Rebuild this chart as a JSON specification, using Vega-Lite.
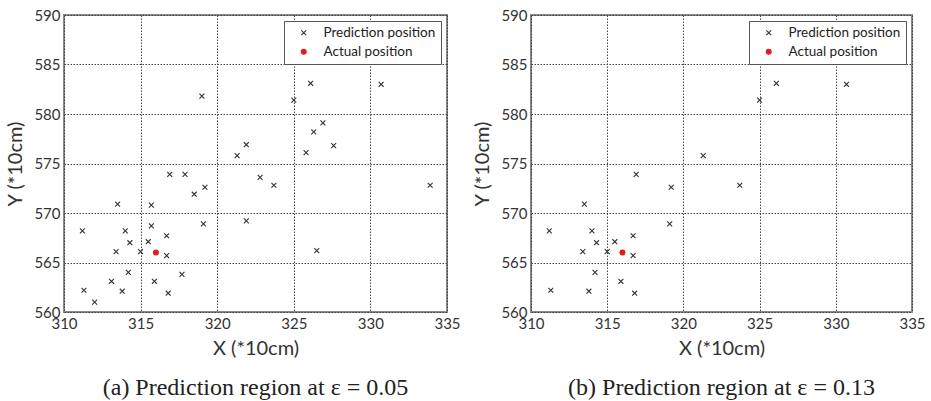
{
  "$schema": "https://vega.github.io/schema/vega-lite/v6.json",
  "padding": {"left": 4, "top": 7, "right": 5, "bottom": 0},
  "background": "white",
  "config": {
    "view": {"stroke": "#888", "strokeWidth": 2},
    "axis": {"grid": true, "gridColor": "#444", "gridDash": [1.5, 1.5], "gridWidth": 1, "domain": false, "ticks": false, "labelFont": "Lato", "labelFontSize": 15, "labelColor": "#333", "labelPadding": 4, "titleFont": "Lato", "titleFontSize": 20, "titleFontWeight": "normal", "titleColor": "#333", "labelOverlap": false, "labelFlush": false, "labelBound": false},
    "axisY": {"titlePadding": 8},
    "axisX": {"titlePadding": 7},
    "legend": {"orient": "top-right", "offset": 6, "strokeColor": "#555", "fillColor": "white", "padding": 5, "rowPadding": 4, "symbolOffset": 8, "labelOffset": 13, "labelFont": "Lato", "labelFontSize": 13.5, "labelColor": "#222", "symbolStrokeWidth": 1.1, "symbolSize": 24},
    "title": {"orient": "bottom", "font": "Liberation Serif", "fontSize": 24, "fontWeight": "normal", "color": "#222", "offset": 18, "anchor": "middle"}
  },
  "datasets": {
    "a": [
      {"x": 319.0, "y": 581.8, "series": "Prediction position"},
      {"x": 321.3, "y": 575.8, "series": "Prediction position"},
      {"x": 316.9, "y": 573.9, "series": "Prediction position"},
      {"x": 317.9, "y": 573.9, "series": "Prediction position"},
      {"x": 318.5, "y": 571.9, "series": "Prediction position"},
      {"x": 319.2, "y": 572.6, "series": "Prediction position"},
      {"x": 326.1, "y": 583.1, "series": "Prediction position"},
      {"x": 325.0, "y": 581.4, "series": "Prediction position"},
      {"x": 330.7, "y": 583.0, "series": "Prediction position"},
      {"x": 326.9, "y": 579.1, "series": "Prediction position"},
      {"x": 326.3, "y": 578.2, "series": "Prediction position"},
      {"x": 327.6, "y": 576.8, "series": "Prediction position"},
      {"x": 325.8, "y": 576.1, "series": "Prediction position"},
      {"x": 321.9, "y": 576.9, "series": "Prediction position"},
      {"x": 322.8, "y": 573.6, "series": "Prediction position"},
      {"x": 323.7, "y": 572.8, "series": "Prediction position"},
      {"x": 333.9, "y": 572.8, "series": "Prediction position"},
      {"x": 319.1, "y": 568.9, "series": "Prediction position"},
      {"x": 321.9, "y": 569.2, "series": "Prediction position"},
      {"x": 326.5, "y": 566.2, "series": "Prediction position"},
      {"x": 313.5, "y": 570.9, "series": "Prediction position"},
      {"x": 315.7, "y": 570.8, "series": "Prediction position"},
      {"x": 311.2, "y": 568.2, "series": "Prediction position"},
      {"x": 314.0, "y": 568.2, "series": "Prediction position"},
      {"x": 315.7, "y": 568.7, "series": "Prediction position"},
      {"x": 316.7, "y": 567.7, "series": "Prediction position"},
      {"x": 314.3, "y": 567.0, "series": "Prediction position"},
      {"x": 315.5, "y": 567.1, "series": "Prediction position"},
      {"x": 313.4, "y": 566.1, "series": "Prediction position"},
      {"x": 315.0, "y": 566.1, "series": "Prediction position"},
      {"x": 316.7, "y": 565.7, "series": "Prediction position"},
      {"x": 314.2, "y": 564.0, "series": "Prediction position"},
      {"x": 317.7, "y": 563.8, "series": "Prediction position"},
      {"x": 313.1, "y": 563.1, "series": "Prediction position"},
      {"x": 315.9, "y": 563.1, "series": "Prediction position"},
      {"x": 311.3, "y": 562.2, "series": "Prediction position"},
      {"x": 313.8, "y": 562.1, "series": "Prediction position"},
      {"x": 316.8, "y": 561.9, "series": "Prediction position"},
      {"x": 312.0, "y": 561.0, "series": "Prediction position"},
      {"x": 316.0, "y": 566.0, "series": "Actual position"}
    ],
    "b": [
      {"x": 316.9, "y": 573.9, "series": "Prediction position"},
      {"x": 319.2, "y": 572.6, "series": "Prediction position"},
      {"x": 326.1, "y": 583.1, "series": "Prediction position"},
      {"x": 325.0, "y": 581.4, "series": "Prediction position"},
      {"x": 330.7, "y": 583.0, "series": "Prediction position"},
      {"x": 321.3, "y": 575.8, "series": "Prediction position"},
      {"x": 323.7, "y": 572.8, "series": "Prediction position"},
      {"x": 313.5, "y": 570.9, "series": "Prediction position"},
      {"x": 319.1, "y": 568.9, "series": "Prediction position"},
      {"x": 311.2, "y": 568.2, "series": "Prediction position"},
      {"x": 314.0, "y": 568.2, "series": "Prediction position"},
      {"x": 316.7, "y": 567.7, "series": "Prediction position"},
      {"x": 314.3, "y": 567.0, "series": "Prediction position"},
      {"x": 315.5, "y": 567.1, "series": "Prediction position"},
      {"x": 313.4, "y": 566.1, "series": "Prediction position"},
      {"x": 315.0, "y": 566.1, "series": "Prediction position"},
      {"x": 316.7, "y": 565.7, "series": "Prediction position"},
      {"x": 314.2, "y": 564.0, "series": "Prediction position"},
      {"x": 315.9, "y": 563.1, "series": "Prediction position"},
      {"x": 311.3, "y": 562.2, "series": "Prediction position"},
      {"x": 313.8, "y": 562.1, "series": "Prediction position"},
      {"x": 316.8, "y": 561.9, "series": "Prediction position"},
      {"x": 316.0, "y": 566.0, "series": "Actual position"}
    ]
  },
  "spacing": 84,
  "bounds": "flush",
  "resolve": {
    "scale": {"shape": "independent", "fill": "independent", "stroke": "independent"},
    "legend": {"shape": "independent", "fill": "independent", "stroke": "independent"}
  },
  "hconcat": [
    {
      "width": 383,
      "height": 297,
      "data": {"name": "a"},
      "title": {"text": "(a) Prediction region at ε = 0.05"},
      "mark": {"type": "point", "strokeWidth": 1.1, "opacity": 1, "size": 24},
      "encoding": {
        "x": {"field": "x", "type": "quantitative", "scale": {"domain": [310, 335], "nice": false, "zero": false}, "axis": {"values": [310, 315, 320, 325, 330, 335], "title": "X (*10cm)"}},
        "y": {"field": "y", "type": "quantitative", "scale": {"domain": [560, 590], "nice": false, "zero": false}, "axis": {"values": [560, 565, 570, 575, 580, 585, 590], "title": "Y (*10cm)"}},
        "shape": {"field": "series", "type": "nominal", "scale": {"domain": ["Prediction position", "Actual position"], "range": ["M-1,-1L1,1M-1,1L1,-1", "circle"]}, "legend": {"title": null}},
        "stroke": {"field": "series", "type": "nominal", "scale": {"domain": ["Prediction position", "Actual position"], "range": ["#333333", "#e31a1c"]}, "legend": {"title": null}},
        "fill": {"field": "series", "type": "nominal", "scale": {"domain": ["Prediction position", "Actual position"], "range": ["transparent", "#e31a1c"]}, "legend": {"title": null}}
      }
    },
    {
      "width": 381,
      "height": 297,
      "data": {"name": "b"},
      "title": {"text": "(b) Prediction region at ε = 0.13"},
      "mark": {"type": "point", "strokeWidth": 1.1, "opacity": 1, "size": 24},
      "encoding": {
        "x": {"field": "x", "type": "quantitative", "scale": {"domain": [310, 335], "nice": false, "zero": false}, "axis": {"values": [310, 315, 320, 325, 330, 335], "title": "X (*10cm)"}},
        "y": {"field": "y", "type": "quantitative", "scale": {"domain": [560, 590], "nice": false, "zero": false}, "axis": {"values": [560, 565, 570, 575, 580, 585, 590], "title": "Y (*10cm)"}},
        "shape": {"field": "series", "type": "nominal", "scale": {"domain": ["Prediction position", "Actual position"], "range": ["M-1,-1L1,1M-1,1L1,-1", "circle"]}, "legend": {"title": null}},
        "stroke": {"field": "series", "type": "nominal", "scale": {"domain": ["Prediction position", "Actual position"], "range": ["#333333", "#e31a1c"]}, "legend": {"title": null}},
        "fill": {"field": "series", "type": "nominal", "scale": {"domain": ["Prediction position", "Actual position"], "range": ["transparent", "#e31a1c"]}, "legend": {"title": null}}
      }
    }
  ]
}
